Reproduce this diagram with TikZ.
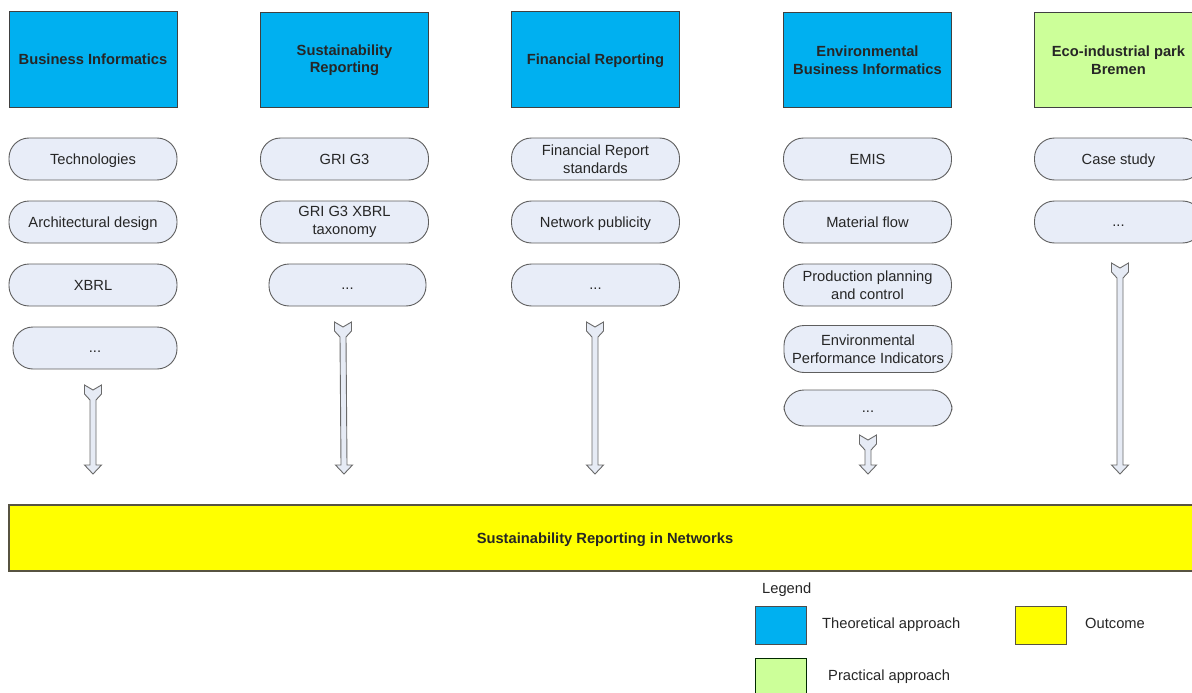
\documentclass[tikz,border=0pt]{standalone}
\usepackage{fontspec}
\setmainfont{Liberation Sans}
\usetikzlibrary{calc}
\definecolor{theo}{HTML}{00B0F0}
\definecolor{prac}{HTML}{CCFF99}
\definecolor{outc}{HTML}{FFFF00}
\definecolor{pillfill}{HTML}{E8EDF8}
\definecolor{pillline}{HTML}{5E5E5E}
\definecolor{txt}{HTML}{262626}
\definecolor{arrfill}{HTML}{E6EBF5}
\definecolor{arrline}{HTML}{6A6A6A}
\newcommand\dts{\raisebox{-4pt}{...}}
\newcommand\blockarr[2]{%
  \draw[barrow] let \p1=(#1), \p2=(#2) in
    (\x1-8.5pt,\y1) -- (\x1,\y1-5pt) -- (\x1+8.5pt,\y1) -- (\x1+8.5pt,\y1-9pt)
    -- (\x1+3pt,\y1-15pt) -- (\x2+3pt,\y2+9pt) -- (\x2+8.5pt,\y2+9pt)
    -- (\x2,\y2) -- (\x2-8.5pt,\y2+9pt) -- (\x2-3pt,\y2+9pt)
    -- (\x1-3pt,\y1-15pt) -- (\x1-8.5pt,\y1-9pt) -- cycle;}
\tikzset{
  hdr/.style={draw=black!75, fill=theo, line width=1pt, minimum width=168pt,
    minimum height=95pt, font=\bfseries\fontsize{14.7}{17.5}\selectfont,
    align=center, inner sep=0pt, text=txt},
  pill/.style={draw=pillline, fill=pillfill, line width=0.9pt, rounded corners=20pt,
    minimum width=168pt, minimum height=42pt, font=\fontsize{14.7}{17.5}\selectfont,
    align=center, inner sep=0pt, text=txt},
  one/.style={text depth=0pt},
  barrow/.style={draw=arrline, fill=arrfill, line width=0.9pt, line join=miter},
  legbox/.style={draw=black!70, line width=1pt, minimum width=51pt, minimum height=38pt, inner sep=0pt},
  legtext/.style={font=\fontsize{14.7}{17.5}\selectfont, text=txt, anchor=west, inner sep=0pt, text depth=0pt}
}
\begin{document}
\begin{tikzpicture}[x=1pt,y=-1pt]
\useasboundingbox (0,0) rectangle (1192,693);
\clip (0,0) rectangle (1192,693);
\fill[white] (0,0) rectangle (1192,693);
% headers
\node[hdr, one] (h1) at (93,59.5) {Business Informatics};
\node[hdr] (h2) at (344.5,60) {Sustainability\\Reporting};
\node[hdr, one] (h3) at (595.5,59.5) {Financial Reporting};
\node[hdr] (h4) at (867.5,60) {Environmental\\Business Informatics};
\node[hdr, fill=prac] (h5) at (1118.5,60) {Eco-industrial park\\Bremen};
% column 1
\node[pill, one] (p11) at (93,159) {Technologies};
\node[pill, one] (p12) at (93,222) {Architectural design};
\node[pill, one] (p13) at (93,285) {XBRL};
\node[pill, one, minimum width=164pt] (p14) at (95,348) {\dts};
% column 2
\node[pill, one] (p21) at (344.5,159) {GRI G3};
\node[pill] (p22) at (344.5,222) {GRI G3 XBRL\\taxonomy};
\node[pill, one, minimum width=157pt] (p23) at (347.5,285) {\dts};
% column 3
\node[pill] (p31) at (595.5,159) {Financial Report\\standards};
\node[pill, one] (p32) at (595.5,222) {Network publicity};
\node[pill, one] (p33) at (595.5,285) {\dts};
% column 4
\node[pill, one] (p41) at (867.5,159) {EMIS};
\node[pill, one] (p42) at (867.5,222) {Material flow};
\node[pill] (p43) at (867.5,285) {Production planning\\and control};
\node[pill, minimum height=47pt] (p44) at (868,349) {Environmental\\Performance Indicators};
\node[pill, one, minimum height=36pt] (p45) at (868,408) {\dts};
% column 5
\node[pill, one] (p51) at (1118.5,159) {Case study};
\node[pill, one] (p52) at (1118.5,222) {\dts};
% outcome bar
\node[draw=black!60!yellow!60!black, fill=outc, line width=1.2pt, minimum width=1192pt,
  minimum height=66pt, inner sep=0pt, font=\bfseries\fontsize{14.7}{17.5}\selectfont, text=txt, one]
  (out) at (605,538) {Sustainability Reporting in Networks};
% arrows
\coordinate (s1) at (93,385);   \coordinate (e1) at (93,474);
\coordinate (s2) at (343,322);  \coordinate (e2) at (344,474);
\coordinate (s3) at (595,322);  \coordinate (e3) at (595,474);
\coordinate (s4) at (868,435);  \coordinate (e4) at (868,474);
\coordinate (s5) at (1120,263); \coordinate (e5) at (1120,474);
\blockarr{s1}{e1}
\blockarr{s2}{e2}
\blockarr{s3}{e3}
\blockarr{s4}{e4}
\blockarr{s5}{e5}
% legend
\node[legtext] (lg) at (762,588) {Legend};
\node[legbox, fill=theo] (lb1) at (780.5,625) {};
\node[legtext] (lt1) at (822,623) {Theoretical approach};
\node[legbox, fill=outc, draw=black!60!yellow!60!black] (lb2) at (1040.5,625) {};
\node[legtext] (lt2) at (1085,623) {Outcome};
\node[legbox, fill=prac, draw=black!60!green!40!black] (lb3) at (780.5,677) {};
\node[legtext] (lt3) at (828,675) {Practical approach};
\end{tikzpicture}
\end{document}
